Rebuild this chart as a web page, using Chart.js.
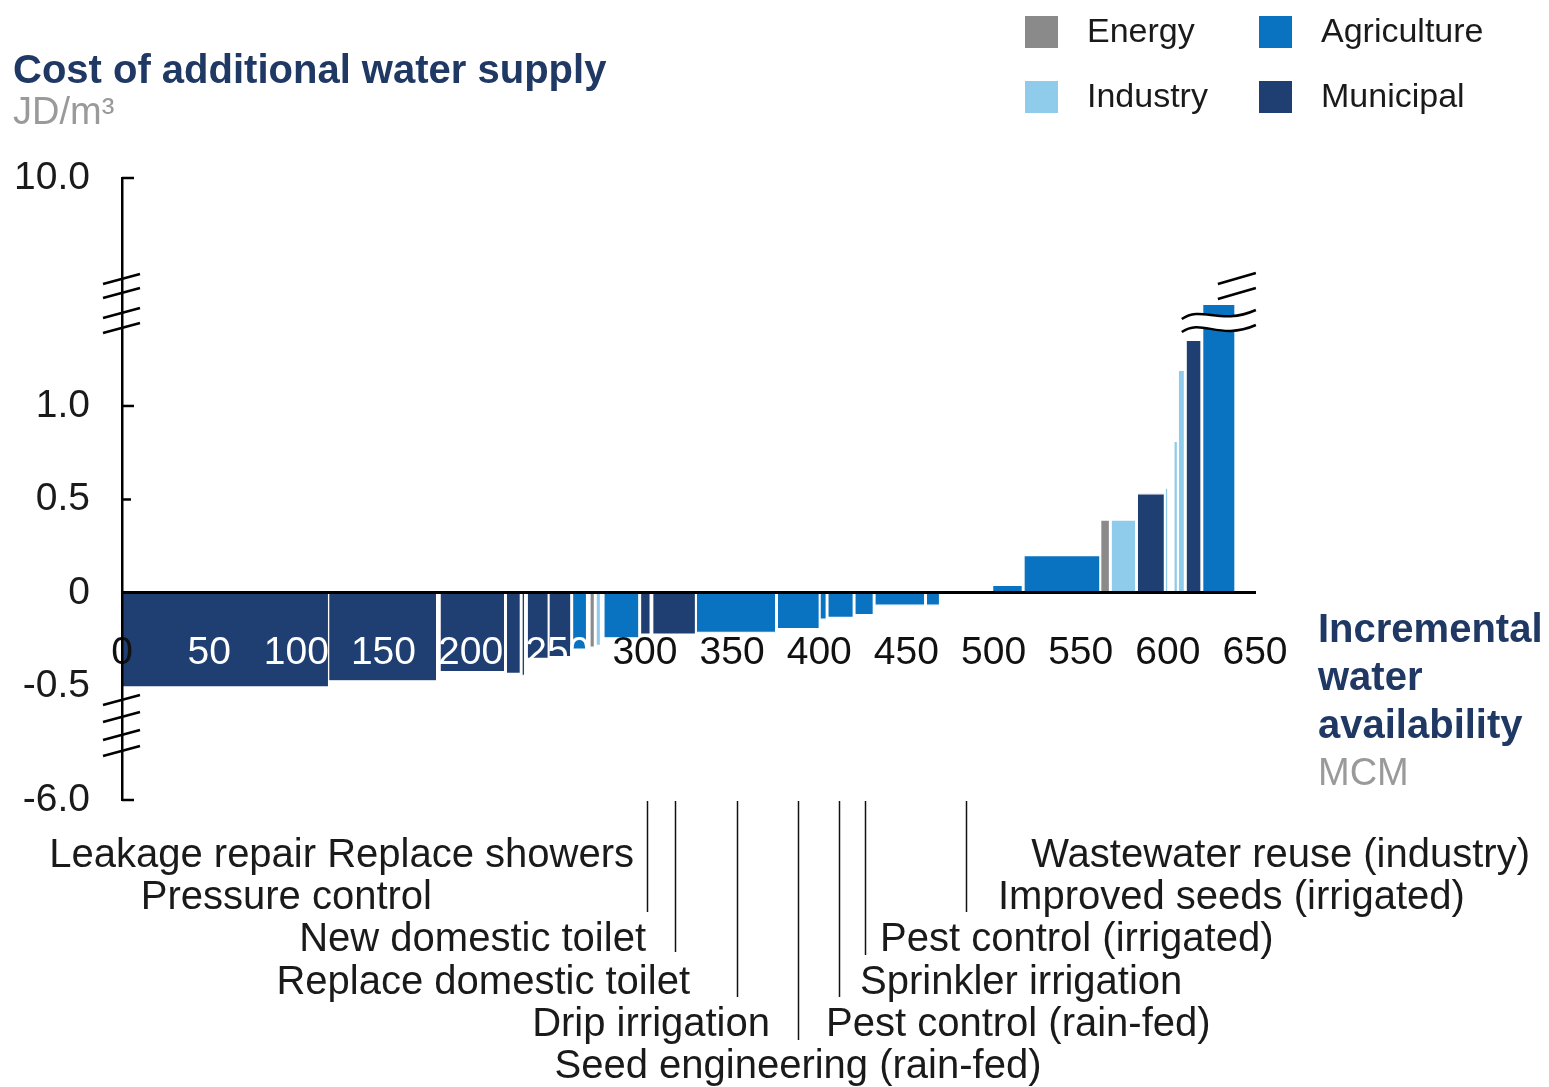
<!DOCTYPE html>
<html>
<head>
<meta charset="utf-8">
<title>Cost of additional water supply</title>
<script src="https://cdn.jsdelivr.net/npm/chart.js@4.4.0/dist/chart.umd.min.js"></script>
<style>
  html, body { margin: 0; padding: 0; background: #fff; }
  #wrap { width: 1549px; height: 1087px; position: relative; }
</style>
</head>
<body>
<div id="wrap"><canvas id="costCurve"></canvas></div>
<script>
// ---- data ----
const sectorNames = ["Energy", "Agriculture", "Industry", "Municipal"];

// one entry per bar: sector, start / end of the bar on the MCM axis, cost in JD/m3
const barSector = ["Municipal", "Municipal", "Municipal", "Municipal", "Municipal", "Municipal", "Municipal",
  "Agriculture", "Energy", "Industry", "Agriculture", "Municipal", "Municipal", "Agriculture", "Agriculture",
  "Agriculture", "Agriculture", "Agriculture", "Agriculture", "Agriculture",
  "Agriculture", "Agriculture", "Energy", "Industry", "Municipal", "Industry", "Industry", "Industry", "Municipal", "Agriculture"];
const barStart = [0, 118.5, 182.5, 220.5, 229.5, 232.5, 245, 258.5, 268.5, 272, 276.5, 297.5, 304.5, 329.5, 376,
  400.5, 405, 420.5, 432, 461.5, 499.5, 517.5, 561.5, 567.5, 582.5, 598.5, 603.5, 606, 610.5, 620];
const barEnd = [118.5, 180.5, 219.5, 228.5, 231, 244.5, 257.5, 266.5, 271, 274.5, 296.5, 303, 329, 375, 400,
  404, 419.5, 431, 460.5, 469, 516.5, 561, 566.5, 581.5, 598, 600, 605.5, 609.5, 619, 638.5];
const barCost = [-0.52, -0.47, -0.42, -0.43, -0.44, -0.35, -0.34, -0.30, -0.29, -0.28, -0.24, -0.22, -0.22, -0.21, -0.19,
  -0.14, -0.13, -0.115, -0.065, -0.065, 0.04, 0.20, 0.39, 0.39, 0.53, 0.56, 0.81, 1.19, 1.35, 2.9];

const yTicks = [-6, -0.5, 0, 0.5, 1, 10];
const xTicksStep = 50;

// measures that are labelled under the chart, and where their leader lines point (MCM)
const measureLabels = ["Leakage repair Replace showers", "Pressure control", "New domestic toilet",
  "Replace domestic toilet", "Drip irrigation", "Seed engineering (rain-fed)", "Pest control (rain-fed)",
  "Sprinkler irrigation", "Pest control (irrigated)", "Improved seeds (irrigated)", "Wastewater reuse (industry)"];
const leaderAt = [301, 317.5, 353, 388, 411.5, 426, 484];

// ---- styles ----
const colors = {
  Energy: "#8a8a8a",
  Agriculture: "#0a73c1",
  Industry: "#8fcbea",
  Municipal: "#1f3f73",
};
const NAVY = "#1f3864";
const FONT = "'Liberation Sans', Arial, sans-serif";

// label layout: [x px, row, align]
const labelPos = [[634, 0, "right"], [432, 1, "right"], [646, 2, "right"], [690, 3, "right"], [770, 4, "right"],
  [798, 5, "center"], [826, 4, "left"], [860, 3, "left"], [880, 2, "left"], [998, 1, "left"], [1530, 0, "right"]];
const leaderEnd = [912, 952, 997, 1040, 997, 955, 912];

// ---- broken y axis: linear from -0.5 to 1.4, squeezed outside ----
const LIN_LO = -0.5, LIN_HI = 1.4, Y_MIN = -6, Y_MAX = 10;
const D_TOP = 2.219, D_BOT = -1.107;
function toDisplay(v) {
  if (v > LIN_HI) return LIN_HI + (v - LIN_HI) * (D_TOP - LIN_HI) / (Y_MAX - LIN_HI);
  if (v < LIN_LO) return LIN_LO + (v - LIN_LO) * (D_BOT - LIN_LO) / (Y_MIN - LIN_LO);
  return v;
}
function fromDisplay(d) {
  if (d > LIN_HI) return LIN_HI + (d - LIN_HI) * (Y_MAX - LIN_HI) / (D_TOP - LIN_HI);
  if (d < LIN_LO) return LIN_LO + (d - LIN_LO) * (Y_MIN - LIN_LO) / (D_BOT - LIN_LO);
  return d;
}

class BrokenScale extends Chart.LinearScale {
  determineDataLimits() {
    this.min = toDisplay(Y_MIN);
    this.max = toDisplay(Y_MAX);
  }
  buildTicks() {
    return yTicks.map(v => ({ value: v }));
  }
  getPixelForValue(value) {
    return super.getPixelForValue(toDisplay(value));
  }
  getValueForPixel(pixel) {
    return fromDisplay(super.getValueForPixel(pixel));
  }
}
BrokenScale.id = "broken";
BrokenScale.defaults = Chart.LinearScale.defaults;
Chart.register(BrokenScale);

// each bar is a closed step drawn as a filled line down to zero
const datasets = barCost.map((cost, i) => ({
  label: barSector[i],
  data: [
    { x: barStart[i], y: 0 },
    { x: barStart[i], y: cost },
    { x: barEnd[i], y: cost },
    { x: barEnd[i], y: 0 },
  ],
  backgroundColor: colors[barSector[i]],
  borderColor: "#ffffff",
  borderWidth: 1.2,
  fill: "origin",
  pointRadius: 0,
  tension: 0,
}));

function line(ctx, x1, y1, x2, y2) {
  ctx.beginPath();
  ctx.moveTo(x1, y1);
  ctx.lineTo(x2, y2);
  ctx.stroke();
}

const decor = {
  id: "decor",
  afterDraw(chart) {
    const ctx = chart.ctx;
    const xs = chart.scales.x, ys = chart.scales.y;
    const ax = ys.right;
    ctx.save();

    // titles
    ctx.textBaseline = "middle";
    ctx.textAlign = "left";
    ctx.fillStyle = NAVY;
    ctx.font = "bold 40px " + FONT;
    ctx.fillText("Cost of additional water supply", 13, 72);
    ctx.fillStyle = "#9a9a9a";
    ctx.font = "38px " + FONT;
    ctx.fillText("JD/m³", 13, 114);

    ctx.fillStyle = NAVY;
    ctx.font = "bold 40px " + FONT;
    ["Incremental", "water", "availability"].forEach((t, i) => ctx.fillText(t, 1318, 631 + i * 48));
    ctx.fillStyle = "#9a9a9a";
    ctx.font = "38px " + FONT;
    ctx.fillText("MCM", 1318, 775);

    // legend, two columns
    const legendAt = { Energy: [1025, 32], Industry: [1025, 97], Agriculture: [1259, 32], Municipal: [1259, 97] };
    ctx.font = "34px " + FONT;
    sectorNames.forEach(name => {
      const [lx, ly] = legendAt[name];
      ctx.fillStyle = colors[name];
      ctx.fillRect(lx, ly - 16, 33, 32);
      ctx.fillStyle = "#1a1a1a";
      ctx.fillText(name, lx + 62, ly + 1);
    });

    // inward tick marks on the y axis
    ctx.strokeStyle = "#000";
    ctx.lineWidth = 2.5;
    [[10, 12], [1, 12], [0.5, 9], [-6, 12]].forEach(([v, len]) => {
      const py = ys.getPixelForValue(v);
      line(ctx, ax, py, ax + len, py);
    });

    // axis break marks
    ctx.lineWidth = 2.5;
    [279, 293, 313, 328, 700, 717, 735, 751].forEach(cy => line(ctx, ax - 19, cy + 5, ax + 18, cy - 5));

    // break through the tallest bar
    const bx0 = xs.getPixelForValue(608), bx1 = xs.getPixelForValue(650.5);
    ctx.fillStyle = "#fff";
    ctx.beginPath();
    ctx.moveTo(bx0, 319);
    ctx.bezierCurveTo(bx0 + 20, 305, bx0 + 38, 326, bx1, 310);
    ctx.lineTo(bx1, 325);
    ctx.bezierCurveTo(bx0 + 38, 341, bx0 + 20, 318, bx0, 332);
    ctx.closePath();
    ctx.fill();
    ctx.beginPath();
    ctx.moveTo(bx0, 319);
    ctx.bezierCurveTo(bx0 + 20, 305, bx0 + 38, 326, bx1, 310);
    ctx.moveTo(bx0, 332);
    ctx.bezierCurveTo(bx0 + 20, 318, bx0 + 38, 341, bx1, 325);
    ctx.stroke();
    line(ctx, bx1 - 38, 284, bx1, 273);
    line(ctx, bx1 - 38, 299, bx1, 288);

    // leader lines and measure names
    ctx.lineWidth = 1.5;
    ctx.strokeStyle = "#111";
    leaderAt.forEach((v, i) => {
      const px = Math.round(xs.getPixelForValue(v)) + 0.5;
      line(ctx, px, 801, px, leaderEnd[i]);
    });
    ctx.fillStyle = "#1a1a1a";
    ctx.font = "40px " + FONT;
    measureLabels.forEach((t, i) => {
      const [lx, row, align] = labelPos[i];
      ctx.textAlign = align;
      ctx.fillText(t, lx, 856 + row * 42.2);
    });
    ctx.restore();
  },
};

Chart.defaults.font.family = FONT;

new Chart(document.getElementById("costCurve"), {
  type: "line",
  data: { datasets: datasets },
  options: {
    responsive: true,
    maintainAspectRatio: false,
    animation: false,
    devicePixelRatio: 1,
    layout: { padding: { left: 0, right: 294, top: 178, bottom: 287 } },
    plugins: {
      legend: { display: false },
      tooltip: { enabled: false },
    },
    scales: {
      x: {
        type: "linear",
        position: { y: 0 },
        min: 0,
        max: 650,
        grid: { display: false, drawTicks: false },
        border: { display: true, color: "#000", width: 3, z: 1 },
        ticks: {
          z: 1,
          stepSize: xTicksStep,
          autoSkip: false,
          maxRotation: 0,
          padding: 37,
          font: { size: 39 },
          color: (c) => (c.tick && c.tick.value > 0 && c.tick.value <= 250 ? "#ffffff" : "#111111"),
        },
      },
      y: {
        type: "broken",
        position: "left",
        afterFit: (scale) => { scale.width = 122; },
        grid: { display: false, drawTicks: false },
        border: { display: true, color: "#000", width: 2.5, z: 1 },
        ticks: {
          autoSkip: false,
          padding: 32,
          font: { size: 39 },
          color: "#1a1a1a",
          callback: (v) => (v === 0 ? "0" : v.toFixed(1)),
        },
      },
    },
  },
  plugins: [decor],
});
</script>
</body>
</html>
